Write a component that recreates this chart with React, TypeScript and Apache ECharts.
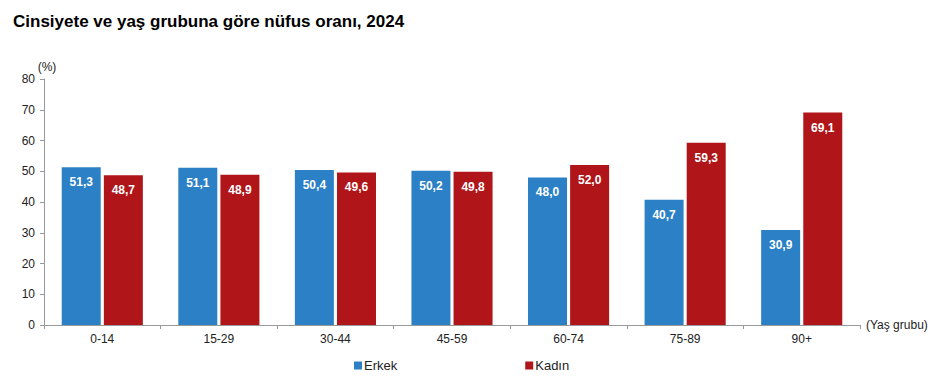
import React, { useEffect, useRef } from "react";
import * as echarts from "echarts";

const categories = ["0-14", "15-29", "30-44", "45-59", "60-74", "75-89", "90+"];
const erkek = [51.3, 51.1, 50.4, 50.2, 48.0, 40.7, 30.9];
const kadin = [48.7, 48.9, 49.6, 49.8, 52.0, 59.3, 69.1];
const yTicks = { min: 0, max: 80, interval: 10 };

const fmt = (v: number) => v.toFixed(1).replace(".", ",");

export default function App() {
  const ref = useRef<HTMLDivElement>(null);
  useEffect(() => {
    if (!ref.current) return;
    const chart = echarts.init(ref.current, undefined, { renderer: "svg" });
    const font = "Liberation Sans, Arial, sans-serif";
    const label = {
      show: true,
      position: "insideTop" as const,
      distance: 9,
      color: "#ffffff",
      fontWeight: "bold" as const,
      fontSize: 12,
      fontFamily: font,
      formatter: (p: any) => fmt(p.value),
    };
    chart.setOption({
      animation: false,
      title: {
        text: "Cinsiyete ve yaş grubuna göre nüfus oranı, 2024",
        left: 0,
        top: 0,
        textStyle: { fontSize: 17, fontWeight: "bold", color: "#000", fontFamily: font },
      },
      legend: {
        left: 341,
        top: 346,
        itemWidth: 8,
        itemHeight: 8,
        itemGap: 128,
        icon: "rect",
        textStyle: { fontSize: 13, color: "#222", fontFamily: font, padding: [0, 0, 0, -3] },
        data: ["Erkek", "Kadın"],
      },
      grid: { left: 36, right: 81, top: 71, bottom: 57, containLabel: false },
      xAxis: {
        type: "category",
        data: categories,
        name: "(Yaş grubu)",
        nameLocation: "end",
        nameGap: 6,
        nameTextStyle: { fontSize: 12, color: "#222", fontFamily: font },
        axisLine: { lineStyle: { color: "#999", width: 1 } },
        axisTick: { show: true, length: 4, lineStyle: { color: "#999" } },
        axisLabel: { fontSize: 12, color: "#222", fontFamily: font, margin: 8 },
      },
      yAxis: {
        type: "value",
        min: yTicks.min,
        max: yTicks.max,
        interval: yTicks.interval,
        name: "(%)",
        nameLocation: "end",
        nameGap: 3,
        nameTextStyle: { fontSize: 12, color: "#222", fontFamily: font, padding: [0, 0, 0, 6] },
        axisLine: { show: true, lineStyle: { color: "#999", width: 1 } },
        axisTick: { show: true, length: 4, lineStyle: { color: "#999" } },
        axisLabel: { fontSize: 12, color: "#222", fontFamily: font, margin: 9 },
        splitLine: { show: false },
      },
      series: [
        {
          name: "Erkek",
          type: "bar",
          data: erkek,
          barWidth: 39,
          barGap: "8%",
          itemStyle: { color: "#2B80C6" },
          label,
        },
        {
          name: "Kadın",
          type: "bar",
          data: kadin,
          barWidth: 39,
          itemStyle: { color: "#AF1519" },
          label,
        },
      ],
    });
    return () => chart.dispose();
  }, []);
  return <div ref={ref} style={{ width: 933, height: 374 }} />;
}
